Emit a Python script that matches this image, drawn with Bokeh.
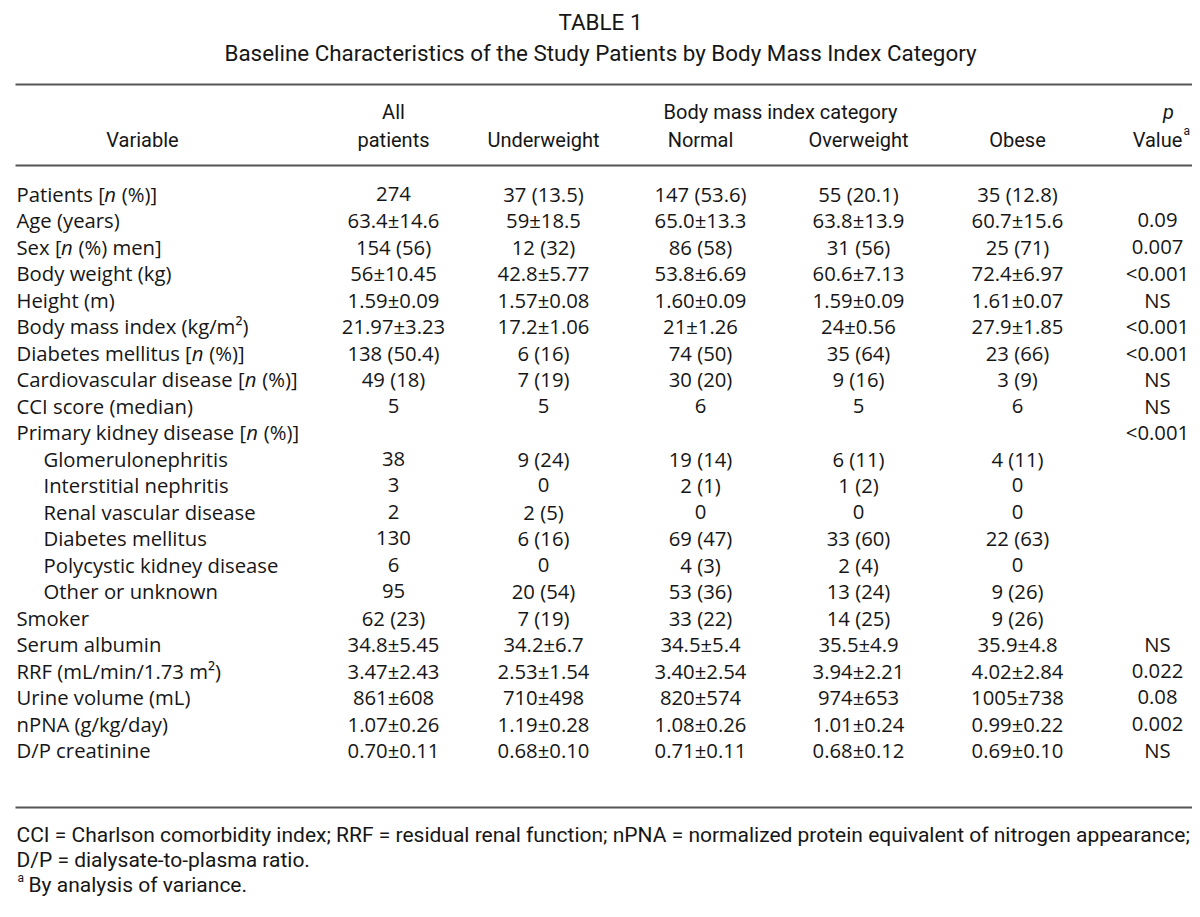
from bokeh.plotting import figure
from bokeh.models import Range1d, ColumnDataSource
from bokeh.core.properties import value
from bokeh.embed import file_html
from bokeh.resources import INLINE

# ---------------- data ----------------
title_lines = ["TABLE 1",
               "Baseline Characteristics of the Study Patients by Body Mass Index Category"]
header_top = ["All", "Body mass index category", "p"]
header_bottom = ["Variable", "patients", "Underweight", "Normal", "Overweight", "Obese", "Value"]

variables = ["Patients [n (%)]", "Age (years)", "Sex [n (%) men]", "Body weight (kg)",
             "Height (m)", "Body mass index (kg/m\u00b2)", "Diabetes mellitus [n (%)]",
             "Cardiovascular disease [n (%)]", "CCI score (median)",
             "Primary kidney disease [n (%)]", "Glomerulonephritis", "Interstitial nephritis",
             "Renal vascular disease", "Diabetes mellitus", "Polycystic kidney disease",
             "Other or unknown", "Smoker", "Serum albumin", "RRF (mL/min/1.73 m\u00b2)",
             "Urine volume (mL)", "nPNA (g/kg/day)", "D/P creatinine"]
indented = [False] * 10 + [True] * 6 + [False] * 6

all_patients = ["274", "63.4\u00b114.6", "154 (56)", "56\u00b110.45", "1.59\u00b10.09",
                "21.97\u00b13.23", "138 (50.4)", "49 (18)", "5", "", "38", "3", "2", "130",
                "6", "95", "62 (23)", "34.8\u00b15.45", "3.47\u00b12.43", "861\u00b1608",
                "1.07\u00b10.26", "0.70\u00b10.11"]
underweight = ["37 (13.5)", "59\u00b118.5", "12 (32)", "42.8\u00b15.77", "1.57\u00b10.08",
               "17.2\u00b11.06", "6 (16)", "7 (19)", "5", "", "9 (24)", "0", "2 (5)",
               "6 (16)", "0", "20 (54)", "7 (19)", "34.2\u00b16.7", "2.53\u00b11.54",
               "710\u00b1498", "1.19\u00b10.28", "0.68\u00b10.10"]
normal = ["147 (53.6)", "65.0\u00b113.3", "86 (58)", "53.8\u00b16.69", "1.60\u00b10.09",
          "21\u00b11.26", "74 (50)", "30 (20)", "6", "", "19 (14)", "2 (1)", "0", "69 (47)",
          "4 (3)", "53 (36)", "33 (22)", "34.5\u00b15.4", "3.40\u00b12.54", "820\u00b1574",
          "1.08\u00b10.26", "0.71\u00b10.11"]
overweight = ["55 (20.1)", "63.8\u00b113.9", "31 (56)", "60.6\u00b17.13", "1.59\u00b10.09",
              "24\u00b10.56", "35 (64)", "9 (16)", "5", "", "6 (11)", "1 (2)", "0", "33 (60)",
              "2 (4)", "13 (24)", "14 (25)", "35.5\u00b14.9", "3.94\u00b12.21", "974\u00b1653",
              "1.01\u00b10.24", "0.68\u00b10.12"]
obese = ["35 (12.8)", "60.7\u00b115.6", "25 (71)", "72.4\u00b16.97", "1.61\u00b10.07",
         "27.9\u00b11.85", "23 (66)", "3 (9)", "6", "", "4 (11)", "0", "0", "22 (63)", "0",
         "9 (26)", "9 (26)", "35.9\u00b14.8", "4.02\u00b12.84", "1005\u00b1738",
         "0.99\u00b10.22", "0.69\u00b10.10"]
p_values = ["", "0.09", "0.007", "<0.001", "NS", "<0.001", "<0.001", "NS", "NS", "<0.001",
            "", "", "", "", "", "", "", "NS", "0.022", "0.08", "0.002", "NS"]

footnotes = ["CCI = Charlson comorbidity index; RRF = residual renal function; nPNA = normalized protein equivalent of nitrogen appearance;",
             "D/P = dialysate-to-plasma ratio.",
             "By analysis of variance."]
footnote_mark = "a"

# ---------------- layout / style ----------------
W, H = 1192, 909
BODY_FONT = "Open Sans"
HEAD_FONT = "Roboto"
BODY_SIZE = 20.3
HEAD_SIZE = 20
TITLE_SIZE = 22.4
FOOT_SIZE = 21
TXT = "#161616"
RULE = "#555555"

LEFT = 16
INDENT = 43
ROW0 = 193
ROWSTEP = 26.52
col_x = [393, 543, 700, 858, 1017, 1157]

# approximate Open Sans advance widths (em) used to place the italic pieces
OS_W = {' ': .26, '[': .30, ']': .30, '(': .30, ')': .30, '%': .82, 'n': .613,
        'a': .556, 'b': .613, 'c': .479, 'd': .613, 'e': .561, 'f': .336, 'g': .547,
        'h': .613, 'i': .258, 'k': .525, 'l': .258, 'm': .93, 'o': .602, 'p': .613,
        'r': .408, 's': .479, 't': .348, 'u': .613, 'v': .5, 'x': .52, 'y': .5,
        'C': .631, 'D': .729, 'P': .602, 'S': .549}
ITAL_N = 0.60


def text_w(s, size):
    return sum(OS_W.get(ch, 0.56) for ch in s) * size


p = figure(width=W, height=H, output_backend="svg", toolbar_location=None,
           x_range=Range1d(0, W), y_range=Range1d(H, 0), min_border=0,
           background_fill_color="white", border_fill_color="white")
p.axis.visible = False
p.grid.visible = False
p.outline_line_color = None


def txt(xs, ys, texts, font, size, align="center", style="normal", baseline="middle"):
    src = ColumnDataSource(dict(x=xs, y=ys, t=texts))
    p.text(x="x", y="y", text="t", source=src, text_font=value(font),
           text_font_size=f"{size}px", text_align=align, text_baseline=baseline,
           text_color=TXT, text_font_style=style)


# title
txt([600, 600], [21, 52], title_lines, HEAD_FONT, TITLE_SIZE)

# rules
rules_y = [84, 165, 807]
p.segment(x0=[LEFT - 1] * 3, x1=[W] * 3, y0=rules_y, y1=rules_y, line_color=RULE, line_width=2)

# headers
txt([col_x[0], 780], [111, 111], header_top[:2], HEAD_FONT, HEAD_SIZE)
txt([1168], [111], [header_top[2]], HEAD_FONT, HEAD_SIZE, style="italic")
hx = [142] + col_x[:5] + [col_x[5]]
txt(hx, [139] * 7, header_bottom, HEAD_FONT, HEAD_SIZE)
txt([col_x[5] + 26], [130], [footnote_mark], HEAD_FONT, 12, align="left")

# body rows
row_y = [ROW0 + i * ROWSTEP for i in range(len(variables))]
plain_x, plain_y, plain_t = [], [], []
ital_x, ital_y, ital_t = [], [], []
for i, lab in enumerate(variables):
    x0 = INDENT if indented[i] else LEFT
    k = lab.find("[n ")
    if k < 0:
        plain_x.append(x0); plain_y.append(row_y[i]); plain_t.append(lab)
    else:
        pre = lab[:k + 1]
        post = lab[k + 2:]
        wpre = text_w(pre, BODY_SIZE)
        lead = len(post) - len(post.lstrip(" "))
        x_post = x0 + wpre + ITAL_N * BODY_SIZE + lead * OS_W[' '] * BODY_SIZE
        plain_x += [x0, x_post]
        plain_y += [row_y[i], row_y[i]]
        plain_t += [pre, post.lstrip(" ")]
        ital_x.append(x0 + wpre); ital_y.append(row_y[i]); ital_t.append("n")
txt(plain_x, plain_y, plain_t, BODY_FONT, BODY_SIZE, align="left")
txt(ital_x, ital_y, ital_t, BODY_FONT, BODY_SIZE, align="left", style="italic")

for cx, col in zip(col_x, [all_patients, underweight, normal, overweight, obese, p_values]):
    txt([cx] * len(col), row_y, col, BODY_FONT, BODY_SIZE)

# footnotes
txt([LEFT, LEFT, LEFT + 12], [834, 859, 884], footnotes, HEAD_FONT, FOOT_SIZE, align="left")
txt([LEFT + 1], [877], [footnote_mark], HEAD_FONT, 12, align="left")

open("out.html", "w").write(file_html(p, INLINE))
